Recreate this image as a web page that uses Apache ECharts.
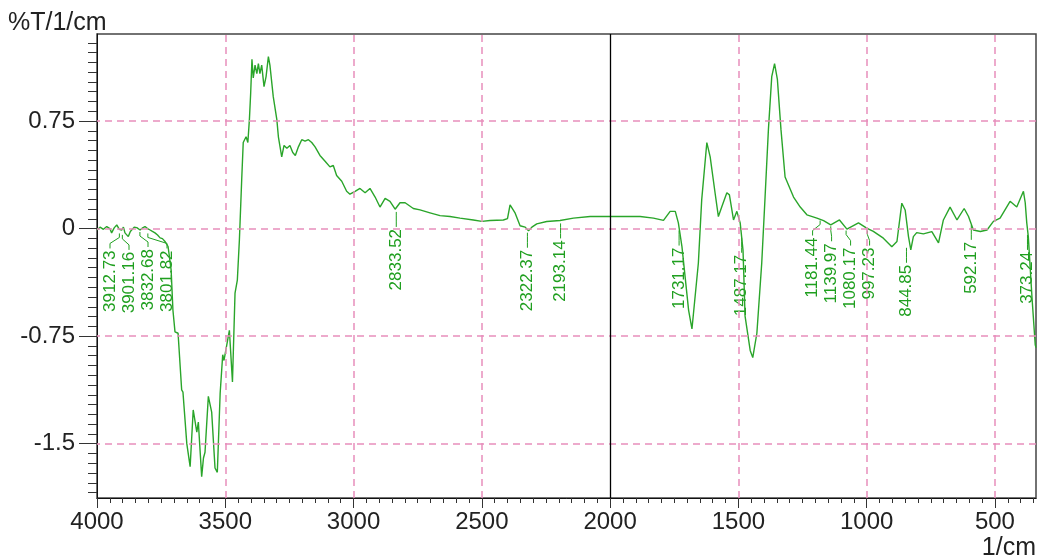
<!DOCTYPE html>
<html>
<head>
<meta charset="utf-8">
<script src="https://cdn.jsdelivr.net/npm/echarts@6/dist/echarts.min.js"></script>
<style>
html, body { margin: 0; padding: 0; background: #fff; }
#chart { width: 1039px; height: 558px; }
</style>
</head>
<body>
<div id="chart"></div>
<script>
// spectrum (1/cm , %T/1/cm)
const wavenumbers = [
  4000, 3988, 3975, 3962, 3950, 3943, 3933, 3923, 3913, 3904, 3897, 3891, 3878, 3870, 3865, 3855,
  3845, 3838, 3832, 3822, 3813, 3803, 3793, 3784, 3774, 3764, 3754, 3745, 3735, 3723, 3711, 3704,
  3696, 3684, 3670, 3665, 3650, 3645, 3637, 3625, 3611, 3605, 3592, 3585, 3579, 3566, 3553, 3540,
  3531, 3520, 3510, 3505, 3484, 3472, 3462, 3453, 3445, 3436, 3430, 3419, 3412, 3406, 3401, 3396,
  3391, 3384, 3377, 3371, 3365, 3358, 3349, 3341, 3332, 3326, 3313, 3299, 3293, 3280, 3271, 3260,
  3248, 3237, 3227, 3215, 3202, 3189, 3176, 3163, 3150, 3131, 3111, 3092, 3079, 3066, 3046, 3027,
  3014, 2994, 2975, 2955, 2936, 2916, 2897, 2877, 2858, 2838, 2819, 2799, 2767, 2741, 2702, 2663,
  2624, 2585, 2533, 2500, 2468, 2416, 2400, 2390, 2370, 2351, 2331, 2318, 2305, 2286, 2247, 2195,
  2143, 2078, 2013, 1948, 1883, 1831, 1792, 1766, 1746, 1734, 1720, 1694, 1681, 1675, 1656, 1643,
  1623, 1610, 1591, 1578, 1565, 1545, 1535, 1519, 1506, 1493, 1482, 1474, 1454, 1444, 1428, 1409,
  1396, 1383, 1370, 1359, 1348, 1334, 1318, 1285, 1259, 1233, 1194, 1168, 1140, 1106, 1077, 1032,
  1000, 974, 935, 902, 882, 863, 850, 837, 828, 818, 805, 779, 746, 720, 701, 675,
  648, 620, 603, 584, 557, 531, 506, 480, 441, 415, 389, 382, 376, 370, 356, 343, 340
];
const signal = [
  -0.01, 0.01, -0.005, 0.014, 0.0, -0.03, 0.005, 0.026, -0.005, -0.01, 0.01, -0.03, -0.056, -0.02, -0.01, 0.01,
  0.007, 0.015, -0.01, 0.005, 0.014, 0.0, -0.01, -0.02, -0.03, -0.045, -0.065, -0.07, -0.09, -0.125, -0.29, -0.57,
  -0.72, -0.73, -1.125, -1.14, -1.5, -1.51, -1.66, -1.265, -1.42, -1.35, -1.73, -1.6, -1.56, -1.17, -1.28, -1.67,
  -1.7, -1.15, -0.88, -0.92, -0.71, -1.07, -0.45, -0.36, -0.08, 0.34, 0.6, 0.64, 0.6, 0.76, 0.945, 1.18,
  1.05, 1.14, 1.08, 1.15, 1.08, 1.14, 0.99, 1.06, 1.2, 1.14, 0.92, 0.76, 0.64, 0.5, 0.58, 0.56,
  0.58, 0.53, 0.51, 0.57, 0.62, 0.61, 0.62, 0.6, 0.57, 0.51, 0.47, 0.43, 0.44, 0.37, 0.33, 0.26,
  0.24, 0.26, 0.28, 0.25, 0.28, 0.22, 0.15, 0.21, 0.19, 0.135, 0.18, 0.18, 0.14, 0.13, 0.11, 0.09,
  0.084, 0.073, 0.06, 0.05, 0.056, 0.06, 0.07, 0.165, 0.107, 0.02, 0.01, -0.016, 0.01, 0.033, 0.049, 0.056,
  0.073, 0.084, 0.084, 0.084, 0.084, 0.073, 0.057, 0.12, 0.12, 0.04, -0.126, -0.57, -0.7, -0.71, -0.24, 0.2,
  0.6, 0.5, 0.25, 0.084, 0.15, 0.25, 0.235, 0.06, 0.12, 0.04, -0.15, -0.61, -0.85, -0.9, -0.73, -0.24,
  0.22, 0.69, 1.06, 1.15, 1.04, 0.69, 0.36, 0.22, 0.15, 0.096, 0.073, 0.056, 0.026, 0.06, -0.004, 0.04,
  0.003, -0.02, -0.067, -0.126, -0.09, 0.177, 0.13, -0.056, -0.149, -0.056, -0.028, -0.037, -0.021, -0.1, 0.06, 0.15,
  0.06, 0.14, 0.084, -0.01, -0.02, -0.01, 0.05, 0.073, 0.19, 0.15, 0.26, 0.18, 0.04, -0.056, -0.47, -0.81, -0.83
];

// picked peaks
const peakWn = [3912.73, 3901.16, 3832.68, 3801.82, 2833.52, 2322.37, 2193.14, 1731.17,
                1487.17, 1181.44, 1139.97, 1080.17, 997.23, 844.85, 592.17, 373.24];
const peakVal = [-0.02, -0.03, -0.01, -0.02, 0.13, -0.015, 0.05, 0.0,
                 -0.05, 0.07, 0.03, 0.0, 0.0, -0.12, 0.04, -0.03];

const xTicks = [4000, 3500, 3000, 2500, 2000, 1500, 1000, 500];
const yTicks = [-1.5, -0.75, 0, 0.75];
const markerX = 2000;

const xMin = 340, xMax = 4000;
const yMin = -1.879, yMax = 1.357;

// minor ticks
const xMinor = [];
for (let v = 4000; v >= 350; v -= 50) xMinor.push(v);
const yMinor = [];
for (let k = -27; k <= 19; k++) yMinor.push(k * 0.75 / 11);

const GREEN = '#2aa52a';
const GREEN_TEXT = '#1f9f1f';
const PINK = '#e88fbc';
const DARK = '#222';
const AXIS_FONT = 'Liberation Sans';
const LABEL_GAP = 19;
const LABEL_MIN_X = 110;

function placeLabels(api) {
  const pts = peakWn.map((w, i) => api.coord([w, peakVal[i]]));
  const order = pts.map((p, i) => i).sort((a, b) => pts[a][0] - pts[b][0]);
  let blocks = order.map(i => ({ ids: [i], c: pts[i][0] }));
  const half = b => (b.ids.length - 1) * LABEL_GAP / 2;
  let merged = true;
  while (merged) {
    merged = false;
    for (let k = 0; k < blocks.length - 1; k++) {
      const a = blocks[k], b = blocks[k + 1];
      if ((b.c - half(b)) - (a.c + half(a)) < LABEL_GAP) {
        const ids = a.ids.concat(b.ids);
        const c = ids.reduce((s, i) => s + pts[i][0], 0) / ids.length;
        blocks.splice(k, 2, { ids: ids, c: c });
        merged = true;
        break;
      }
    }
  }
  const lx = [];
  blocks.forEach(b => {
    const start = Math.max(b.c - half(b), LABEL_MIN_X);
    b.ids.forEach((i, j) => { lx[i] = start + j * LABEL_GAP; });
  });
  return { pts: pts, lx: lx };
}

let peakLayout = null;

// pink dashed grid, drawn as mark lines on the major tick values
const gridLines = xTicks.filter(v => v !== markerX && v !== xMax).map(v => ({ xAxis: v }))
  .concat(yTicks.map(v => ({ yAxis: v })));

const chart = echarts.init(document.getElementById('chart'));
chart.setOption({
  animation: false,
  grid: { left: 97, right: 3, top: 34, bottom: 60, show: true, borderColor: '#444', borderWidth: 1.5, outerBoundsMode: 'none' },
  graphic: [
    { type: 'text', left: 8, top: 11, style: { text: '%T/1/cm', font: '25px "Liberation Sans"', fill: DARK } },
    { type: 'text', right: 3, top: 536, style: { text: '1/cm', font: '25px "Liberation Sans"', fill: DARK } }
  ],
  xAxis: [{
    type: 'value', min: xMin, max: xMax, inverse: true,
    axisLine: { show: true, onZero: false, lineStyle: { color: '#111', width: 1 } },
    axisTick: { show: true, customValues: xTicks, length: 10, lineStyle: { color: '#333' } },
    axisLabel: { show: true, customValues: xTicks, margin: 12, color: DARK, fontSize: 24, fontFamily: AXIS_FONT,
                 formatter: v => String(v) },
    splitLine: { show: false }
  }, {
    type: 'value', min: xMin, max: xMax, inverse: true, position: 'bottom',
    axisLine: { show: false, onZero: false },
    axisTick: { show: true, customValues: xMinor, length: 5, lineStyle: { color: '#333' } },
    axisLabel: { show: false },
    splitLine: { show: false }
  }],
  yAxis: [{
    type: 'value', min: yMin, max: yMax,
    axisLine: { show: true, onZero: false, lineStyle: { color: '#111', width: 1 } },
    axisTick: { show: true, customValues: yTicks, length: 18, lineStyle: { color: '#333' } },
    axisLabel: { show: true, customValues: yTicks, margin: 22, color: DARK, fontSize: 24, fontFamily: AXIS_FONT,
                 formatter: v => String(v) },
    splitLine: { show: false }
  }, {
    type: 'value', min: yMin, max: yMax, position: 'left',
    axisLine: { show: false, onZero: false },
    axisTick: { show: true, customValues: yMinor, length: 9, lineStyle: { color: '#333' } },
    axisLabel: { show: false },
    splitLine: { show: false }
  }],
  series: [{
    type: 'line',
    xAxisIndex: 0, yAxisIndex: 0,
    data: [],
    markLine: {
      silent: true, symbol: ['none', 'none'], label: { show: false },
      lineStyle: { color: PINK, type: [7, 5], width: 1.5 },
      data: gridLines
    }
  }, {
    type: 'line',
    xAxisIndex: 0, yAxisIndex: 0,
    data: wavenumbers.map((w, i) => [w, signal[i]]),
    showSymbol: false,
    symbol: 'none',
    lineStyle: { color: GREEN, width: 1.4 },
    markLine: {
      silent: true, symbol: ['none', 'none'], label: { show: false },
      lineStyle: { color: '#000', type: 'solid', width: 1.3 },
      data: [{ xAxis: markerX }]
    }
  }, {
    type: 'custom',
    xAxisIndex: 0, yAxisIndex: 0,
    data: peakWn.map((w, i) => [w, peakVal[i]]),
    encode: { x: 0, y: 1 },
    clip: false,
    renderItem: function (params, api) {
      if (params.dataIndex === 0 || !peakLayout) peakLayout = placeLabels(api);
      const i = params.dataIndex;
      const px = peakLayout.pts[i][0], py = peakLayout.pts[i][1];
      const lx = peakLayout.lx[i];
      return {
        type: 'group',
        children: [{
          type: 'polyline',
          shape: { points: [[px, py + 2], [px, py + 6], [lx, py + 12], [lx, py + 17]] },
          style: { stroke: GREEN_TEXT, lineWidth: 1, fill: 'none' }
        }, {
          type: 'text',
          x: lx, y: py + 19, rotation: Math.PI / 2,
          style: { text: peakWn[i].toFixed(2), fill: GREEN_TEXT, font: '17px "Liberation Sans"', align: 'right', verticalAlign: 'middle' }
        }]
      };
    }
  }]
});
</script>
</body>
</html>
